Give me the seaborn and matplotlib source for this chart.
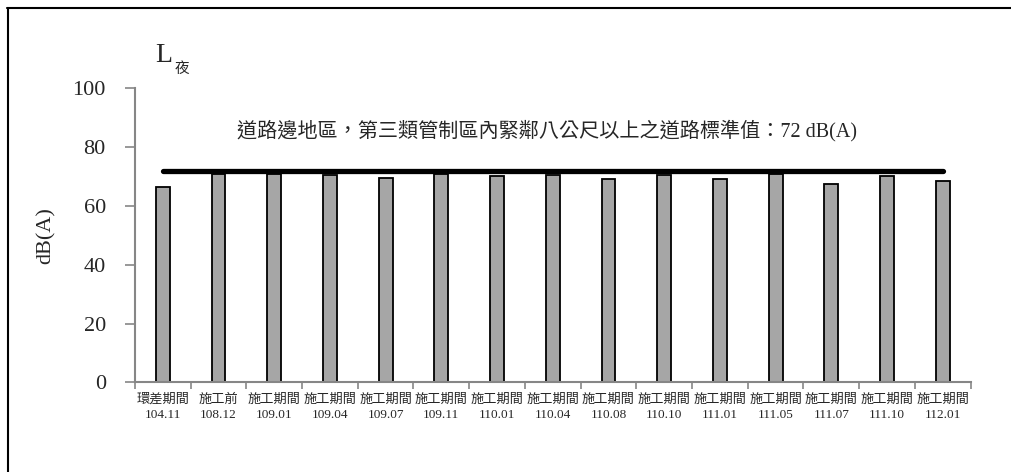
import numpy as np
import pandas as pd
import seaborn as sns
import matplotlib.pyplot as plt
from matplotlib.lines import Line2D

# data
periods = ['環差期間', '施工前', '施工期間', '施工期間', '施工期間', '施工期間', '施工期間', '施工期間',
           '施工期間', '施工期間', '施工期間', '施工期間', '施工期間', '施工期間', '施工期間']
dates = ['104.11', '108.12', '109.01', '109.04', '109.07', '109.11', '110.01', '110.04',
         '110.08', '110.10', '111.01', '111.05', '111.07', '111.10', '112.01']
l_night = [66.3, 70.7, 70.9, 70.4, 69.6, 70.8, 70.3, 70.4,
           69.1, 70.4, 69.1, 70.9, 67.6, 70.3, 68.5]
standard = 72
standard_text = '道路邊地區，第三類管制區內緊鄰八公尺以上之道路標準值：72 dB(A)'

labels = [f'{p}\n{d}' for p, d in zip(periods, dates)]
df = pd.DataFrame({'label': labels, 'value': l_night})

sns.set_style('white')
plt.rcParams['font.family'] = ['Liberation Serif', 'Noto Sans CJK TC']
mixed = ['Liberation Serif', 'Noto Sans CJK TC']

fig = plt.figure(figsize=(10.11, 4.72), dpi=100)
ax = fig.add_axes([0.1335, 0.19, 0.9600 - 0.1335, 0.8129 - 0.19])

sns.barplot(data=df, x='label', y='value', color='#a6a6a6', saturation=1,
            width=0.25, edgecolor='black', linewidth=1.3, ax=ax)

# standard line across the bars
ax.plot([0, len(labels) - 1], [standard, standard], color='black', lw=3.8,
        solid_capstyle='round', zorder=3)
ax.text((len(labels) - 1) / 2 - 0.1, 85.5, standard_text, ha='center', va='center',
        fontsize=14.5, family=mixed)

ax.set_ylim(0, 100)
ax.set_xlim(-0.5, len(labels) - 0.5)
ax.set_yticks(np.arange(0, 101, 20))
ax.tick_params(axis='y', labelsize=16, length=7, width=1.2, color='#868686',
               direction='out', pad=14, left=True)
ax.set_xticks(range(len(labels)))
ax.set_xticklabels(labels, fontsize=9.5, linespacing=1.4)
ax.tick_params(axis='x', length=0, pad=8)
ax.set_xticks(np.arange(-0.5, len(labels), 1), minor=True)
ax.tick_params(axis='x', which='minor', length=5, width=1.2, color='#868686',
               direction='out', bottom=True)
ax.set_xlabel('')
ax.set_ylabel('dB(A)', fontsize=16, labelpad=12)

for side in ['top', 'right']:
    ax.spines[side].set_visible(False)
for side in ['left', 'bottom']:
    ax.spines[side].set_color('#868686')
    ax.spines[side].set_linewidth(1.5)

# title L夜 with subscript
fig.text(155 / 1011, 1 - 62 / 472, 'L', fontsize=20, family='Liberation Serif', va='baseline')
fig.text(175 / 1011, 1 - 73 / 472, '夜', fontsize=10.5, family='Noto Sans CJK TC', va='baseline')

# outer frame (only top and left edges visible)
fig.add_artist(Line2D([7 / 1011, 1], [1 - 8 / 472, 1 - 8 / 472], color='black', lw=1.5,
                      transform=fig.transFigure))
fig.add_artist(Line2D([8 / 1011, 8 / 1011], [1 - 8 / 472, 0], color='black', lw=1.5,
                      transform=fig.transFigure))

fig.savefig('out.png', dpi=100)
